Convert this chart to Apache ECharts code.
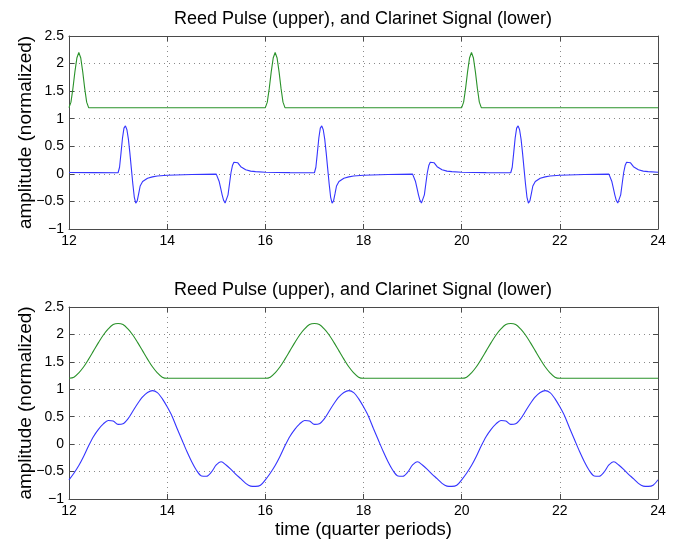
<!DOCTYPE html>
<html><head><meta charset="utf-8">
<script src="https://cdn.jsdelivr.net/npm/echarts@6/dist/echarts.min.js"></script>
<style>html,body{margin:0;padding:0;background:#fff}#c{width:678px;height:541px}</style>
</head><body><div id="c"></div>
<script>
const titleText = 'Reed Pulse (upper), and Clarinet Signal (lower)';
const yName = 'amplitude (normalized)';
const xName = 'time (quarter periods)';
const xTicks = [12, 14, 16, 18, 20, 22, 24];
const yTicks = [-1, -0.5, 0, 0.5, 1, 1.5, 2, 2.5];

// upper plot: reed pulse (green)
const topReed = [
  [12.00,1.20],[12.04,1.30],[12.08,1.55],[12.12,1.85],[12.16,2.10],[12.20,2.20],[12.24,2.10],[12.28,1.85],[12.32,1.55],[12.36,1.30],[12.40,1.20],
  [16.00,1.20],[16.04,1.30],[16.08,1.55],[16.12,1.85],[16.16,2.10],[16.20,2.20],[16.24,2.10],[16.28,1.85],[16.32,1.55],[16.36,1.30],[16.40,1.20],
  [20.00,1.20],[20.04,1.30],[20.08,1.55],[20.12,1.85],[20.16,2.10],[20.20,2.20],[20.24,2.10],[20.28,1.85],[20.32,1.55],[20.36,1.30],[20.40,1.20],
  [24.00,1.20]
];

// upper plot: clarinet signal (blue)
const topSignal = [
  [12.0,0.025],[12.5,0.022],[13.0,0.02],[13.03,0.12],[13.06,0.38],[13.09,0.65],[13.12,0.83],[13.15,0.87],[13.18,0.80],[13.21,0.63],[13.24,0.38],[13.27,0.10],[13.30,-0.18],[13.33,-0.42],[13.36,-0.53],[13.39,-0.49],[13.42,-0.36],[13.45,-0.22],[13.50,-0.14],[13.60,-0.08],[13.70,-0.055],[13.80,-0.04],[14.0,-0.025],[14.5,-0.013],[15.0,-0.005],[15.03,-0.04],[15.06,-0.14],[15.09,-0.26],[15.12,-0.38],[15.15,-0.48],[15.18,-0.53],[15.21,-0.50],[15.24,-0.38],[15.27,-0.18],[15.30,0.02],[15.33,0.15],[15.36,0.21],[15.40,0.24],[15.44,0.20],[15.50,0.13],[15.60,0.075],[15.70,0.05],[15.80,0.04],
  [16.0,0.03],[16.5,0.022],[17.0,0.02],[17.03,0.12],[17.06,0.38],[17.09,0.65],[17.12,0.83],[17.15,0.87],[17.18,0.80],[17.21,0.63],[17.24,0.38],[17.27,0.10],[17.30,-0.18],[17.33,-0.42],[17.36,-0.53],[17.39,-0.49],[17.42,-0.36],[17.45,-0.22],[17.50,-0.14],[17.60,-0.08],[17.70,-0.055],[17.80,-0.04],[18.0,-0.025],[18.5,-0.013],[19.0,-0.005],[19.03,-0.04],[19.06,-0.14],[19.09,-0.26],[19.12,-0.38],[19.15,-0.48],[19.18,-0.53],[19.21,-0.50],[19.24,-0.38],[19.27,-0.18],[19.30,0.02],[19.33,0.15],[19.36,0.21],[19.40,0.24],[19.44,0.20],[19.50,0.13],[19.60,0.075],[19.70,0.05],[19.80,0.04],
  [20.0,0.03],[20.5,0.022],[21.0,0.02],[21.03,0.12],[21.06,0.38],[21.09,0.65],[21.12,0.83],[21.15,0.87],[21.18,0.80],[21.21,0.63],[21.24,0.38],[21.27,0.10],[21.30,-0.18],[21.33,-0.42],[21.36,-0.53],[21.39,-0.49],[21.42,-0.36],[21.45,-0.22],[21.50,-0.14],[21.60,-0.08],[21.70,-0.055],[21.80,-0.04],[22.0,-0.025],[22.5,-0.013],[23.0,-0.005],[23.03,-0.04],[23.06,-0.14],[23.09,-0.26],[23.12,-0.38],[23.15,-0.48],[23.18,-0.53],[23.21,-0.50],[23.24,-0.38],[23.27,-0.18],[23.30,0.02],[23.33,0.15],[23.36,0.21],[23.40,0.24],[23.44,0.20],[23.50,0.13],[23.60,0.075],[23.70,0.05],[23.80,0.04],
  [24.0,0.03]
];

// lower plot: reed pulse (green)
const botReed = [
  [12.0,1.20],[12.1,1.22],[12.2,1.30],[12.3,1.41],[12.4,1.55],[12.5,1.70],[12.6,1.85],[12.7,1.99],[12.8,2.10],[12.9,2.18],[13.0,2.20],[13.1,2.18],[13.2,2.10],[13.3,1.99],[13.4,1.85],[13.5,1.70],[13.6,1.55],[13.7,1.41],[13.8,1.30],[13.9,1.22],[14.0,1.20],[14.1,1.20],[15.9,1.20],
  [16.0,1.20],[16.1,1.22],[16.2,1.30],[16.3,1.41],[16.4,1.55],[16.5,1.70],[16.6,1.85],[16.7,1.99],[16.8,2.10],[16.9,2.18],[17.0,2.20],[17.1,2.18],[17.2,2.10],[17.3,1.99],[17.4,1.85],[17.5,1.70],[17.6,1.55],[17.7,1.41],[17.8,1.30],[17.9,1.22],[18.0,1.20],[18.1,1.20],[19.9,1.20],
  [20.0,1.20],[20.1,1.22],[20.2,1.30],[20.3,1.41],[20.4,1.55],[20.5,1.70],[20.6,1.85],[20.7,1.99],[20.8,2.10],[20.9,2.18],[21.0,2.20],[21.1,2.18],[21.2,2.10],[21.3,1.99],[21.4,1.85],[21.5,1.70],[21.6,1.55],[21.7,1.41],[21.8,1.30],[21.9,1.22],[22.0,1.20],[22.1,1.20],[24.0,1.20]
];

// lower plot: clarinet signal (blue)
const botSignal = [
  [12.0,-0.65],[12.1,-0.53],[12.2,-0.39],[12.3,-0.22],[12.4,-0.03],[12.5,0.14],[12.6,0.27],[12.7,0.37],[12.8,0.43],[12.9,0.42],[13.0,0.36],[13.1,0.37],[13.2,0.46],[13.3,0.60],[13.4,0.74],[13.5,0.86],[13.6,0.94],[13.7,0.975],[13.8,0.94],[13.9,0.83],[14.0,0.68],[14.1,0.51],[14.2,0.29],[14.3,0.08],[14.4,-0.13],[14.5,-0.32],[14.6,-0.48],[14.7,-0.58],[14.8,-0.585],[14.9,-0.51],[15.0,-0.38],[15.1,-0.32],[15.2,-0.38],[15.3,-0.46],[15.4,-0.55],[15.5,-0.63],[15.6,-0.715],[15.7,-0.765],[15.8,-0.77],[15.9,-0.75],
  [16.0,-0.65],[16.1,-0.53],[16.2,-0.39],[16.3,-0.22],[16.4,-0.03],[16.5,0.14],[16.6,0.27],[16.7,0.37],[16.8,0.43],[16.9,0.42],[17.0,0.36],[17.1,0.37],[17.2,0.46],[17.3,0.60],[17.4,0.74],[17.5,0.86],[17.6,0.94],[17.7,0.975],[17.8,0.94],[17.9,0.83],[18.0,0.68],[18.1,0.51],[18.2,0.29],[18.3,0.08],[18.4,-0.13],[18.5,-0.32],[18.6,-0.48],[18.7,-0.58],[18.8,-0.585],[18.9,-0.51],[19.0,-0.38],[19.1,-0.32],[19.2,-0.38],[19.3,-0.46],[19.4,-0.55],[19.5,-0.63],[19.6,-0.715],[19.7,-0.765],[19.8,-0.77],[19.9,-0.75],
  [20.0,-0.65],[20.1,-0.53],[20.2,-0.39],[20.3,-0.22],[20.4,-0.03],[20.5,0.14],[20.6,0.27],[20.7,0.37],[20.8,0.43],[20.9,0.42],[21.0,0.36],[21.1,0.37],[21.2,0.46],[21.3,0.60],[21.4,0.74],[21.5,0.86],[21.6,0.94],[21.7,0.975],[21.8,0.94],[21.9,0.83],[22.0,0.68],[22.1,0.51],[22.2,0.29],[22.3,0.08],[22.4,-0.13],[22.5,-0.32],[22.6,-0.48],[22.7,-0.58],[22.8,-0.585],[22.9,-0.51],[23.0,-0.38],[23.1,-0.32],[23.2,-0.38],[23.3,-0.46],[23.4,-0.55],[23.5,-0.63],[23.6,-0.715],[23.7,-0.765],[23.8,-0.77],[23.9,-0.75],
  [24.0,-0.65]
];

const FONT = '"Liberation Sans", Arial, Helvetica, sans-serif';
const FRAME = '#4a4a4a';
const GRIDC = '#8a8a8a';
const fmt = v => String(v).replace('-', '\u2212');

function mainX(gi, withName) {
  return {
    gridIndex: gi, type: 'value', position: 'bottom',
    min: xTicks[0], max: xTicks[xTicks.length - 1], interval: xTicks[1] - xTicks[0],
    axisLine: { show: true, onZero: false, lineStyle: { color: FRAME, width: 1 } },
    axisTick: { show: true, inside: true, length: 5, lineStyle: { color: FRAME } },
    axisLabel: { show: true, margin: 5, color: '#000', fontSize: 14, fontFamily: FONT, showMinLabel: true, showMaxLabel: true, formatter: fmt },
    splitLine: { show: true, lineStyle: { color: GRIDC, type: [1, 4], width: 1 } },
    name: withName ? xName : '', nameLocation: 'middle', nameGap: 21, nameMoveOverlap: false,
    nameTextStyle: { fontSize: 18.5, color: '#000', fontFamily: FONT }
  };
}
function oppX(gi) {
  return {
    gridIndex: gi, type: 'value', position: 'top',
    min: xTicks[0], max: xTicks[xTicks.length - 1], interval: xTicks[1] - xTicks[0],
    axisLine: { show: true, onZero: false, lineStyle: { color: FRAME, width: 1 } },
    axisTick: { show: true, inside: true, length: 5, lineStyle: { color: FRAME } },
    axisLabel: { show: false }, splitLine: { show: false }
  };
}
function mainY(gi) {
  return {
    gridIndex: gi, type: 'value', position: 'left',
    min: yTicks[0], max: yTicks[yTicks.length - 1], interval: yTicks[1] - yTicks[0],
    axisLine: { show: true, onZero: false, lineStyle: { color: FRAME, width: 1 } },
    axisTick: { show: true, inside: true, length: 5, lineStyle: { color: FRAME } },
    axisLabel: { show: true, margin: 5, color: '#000', fontSize: 14, fontFamily: FONT, showMinLabel: true, showMaxLabel: true, formatter: fmt },
    splitLine: { show: true, lineStyle: { color: GRIDC, type: [1, 4], width: 1 } },
    name: yName, nameLocation: 'middle', nameGap: 34, nameMoveOverlap: false,
    nameTextStyle: { fontSize: 19, color: '#000', fontFamily: FONT }
  };
}
function oppY(gi) {
  return {
    gridIndex: gi, type: 'value', position: 'right',
    min: yTicks[0], max: yTicks[yTicks.length - 1], interval: yTicks[1] - yTicks[0],
    axisLine: { show: true, onZero: false, lineStyle: { color: FRAME, width: 1 } },
    axisTick: { show: true, inside: true, length: 5, lineStyle: { color: FRAME } },
    axisLabel: { show: false }, splitLine: { show: false }
  };
}
function line(data, color, xi, yi, smooth) {
  return {
    type: 'line', data: data, xAxisIndex: xi, yAxisIndex: yi,
    showSymbol: false, symbol: 'none', smooth: smooth, clip: true,
    lineStyle: { color: color, width: 1.1 }, itemStyle: { color: color },
    emphasis: { disabled: true }, silent: true
  };
}

const BLUE = '#3535ff';
const GREEN = '#2a922a';

const chart = echarts.init(document.getElementById('c'), null, { renderer: 'canvas' });
chart.setOption({
  animation: false,
  backgroundColor: '#fff',
  title: [
    { text: titleText, left: 363, top: 10, textAlign: 'center', padding: 0,
      textStyle: { fontSize: 18, fontWeight: 'normal', color: '#000', fontFamily: FONT } },
    { text: titleText, left: 363, top: 281, textAlign: 'center', padding: 0,
      textStyle: { fontSize: 18, fontWeight: 'normal', color: '#000', fontFamily: FONT } }
  ],
  grid: [
    { left: 69, top: 36, width: 589, height: 193, containLabel: false, outerBoundsMode: 'none' },
    { left: 69, top: 307, width: 589, height: 192, containLabel: false, outerBoundsMode: 'none' }
  ],
  xAxis: [mainX(0, false), oppX(0), mainX(1, true), oppX(1)],
  yAxis: [mainY(0), oppY(0), mainY(1), oppY(1)],
  series: [
    line(topReed, GREEN, 0, 0, false),
    line(topSignal, BLUE, 0, 0, false),
    line(botReed, GREEN, 2, 2, 0.3),
    line(botSignal, BLUE, 2, 2, 0.3)
  ]
});
</script>
</body></html>
